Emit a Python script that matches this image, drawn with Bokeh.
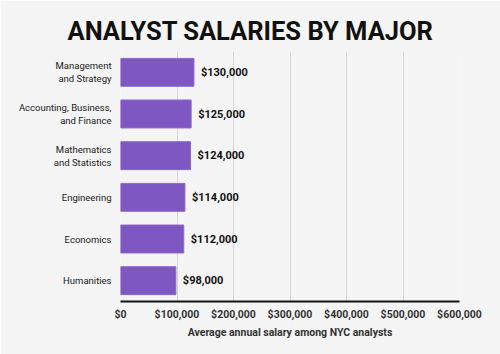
from bokeh.plotting import figure
from bokeh.models import ColumnDataSource, NumeralTickFormatter, FixedTicker, Range1d, FactorRange, LabelSet
from bokeh.core.properties import value
from bokeh.embed import file_html
from bokeh.resources import INLINE

title_text = "ANALYST SALARIES BY MAJOR"
majors = ["Management\nand Strategy", "Accounting, Business,\nand Finance",
          "Mathematics\nand Statistics", "Engineering", "Economics", "Humanities"]
salaries = [130000, 125000, 124000, 114000, 112000, 98000]
salary_labels = ["$130,000", "$125,000", "$124,000", "$114,000", "$112,000", "$98,000"]
x_ticks = [0, 100000, 200000, 300000, 400000, 500000, 600000]

BG = "#f4f4f4"
FONT = "Roboto"

src = ColumnDataSource(dict(major=majors, salary=salaries, lab=salary_labels))

p = figure(width=500, height=354, output_backend="svg", toolbar_location=None,
           y_range=FactorRange(factors=list(reversed(majors)), range_padding=0),
           x_range=Range1d(0, 600000),
           min_border_left=120, min_border_right=41, min_border_top=51, min_border_bottom=53)

p.title.text = title_text
p.title.align = "left"
p.title.text_font = FONT
p.title.text_font_size = "25.5px"
p.title.text_font_style = "bold"
p.title.text_color = "#111111"
p.title.offset = -53
p.title.standoff = 12

p.background_fill_color = BG
p.border_fill_color = BG
p.outline_line_color = None

p.hbar(y="major", right="salary", left=0, height=0.67, source=src,
       fill_color="#7e57c2", line_color="#8c68cc", line_width=1)

labels = LabelSet(x="salary", y="major", text="lab", source=src, x_offset=7,
                  text_font=value(FONT), text_font_size="11px", text_font_style="bold",
                  text_color="#111111", text_baseline="middle", text_align="left")
p.add_layout(labels)

# grid
p.ygrid.grid_line_color = None
p.xgrid.grid_line_color = "#d6d6d6"
p.xgrid.grid_line_width = 1
p.xgrid.ticker = FixedTicker(ticks=x_ticks)

# x axis
p.xaxis.ticker = FixedTicker(ticks=x_ticks)
p.xaxis.formatter = NumeralTickFormatter(format="$0,0")
p.xaxis.axis_line_color = "#111111"
p.xaxis.axis_line_width = 2
p.xaxis.major_tick_line_color = None
p.xaxis.minor_tick_line_color = None
p.xaxis.major_tick_out = 0
p.xaxis.major_tick_in = 0
p.xaxis.minor_tick_out = 0
p.xaxis.major_label_text_font = FONT
p.xaxis.major_label_text_font_size = "10.5px"
p.xaxis.major_label_text_font_style = "bold"
p.xaxis.major_label_text_color = "#333333"
p.xaxis.major_label_standoff = 6
p.xaxis.axis_label = "Average annual salary among NYC analysts"
p.xaxis.axis_label_text_font = FONT
p.xaxis.axis_label_text_font_size = "10.5px"
p.xaxis.axis_label_text_font_style = "bold"
p.xaxis.axis_label_text_color = "#333333"
p.xaxis.axis_label_standoff = 2

# y axis
p.yaxis.axis_line_color = None
p.yaxis.major_tick_line_color = None
p.yaxis.minor_tick_line_color = None
p.yaxis.major_tick_out = 0
p.yaxis.major_tick_in = 0
p.yaxis.major_label_text_font = FONT
p.yaxis.major_label_text_font_size = "9.5px"
p.yaxis.major_label_text_color = "#1a1a1a"
p.yaxis.major_label_standoff = 9

open("out.html", "w").write(file_html(p, INLINE))
